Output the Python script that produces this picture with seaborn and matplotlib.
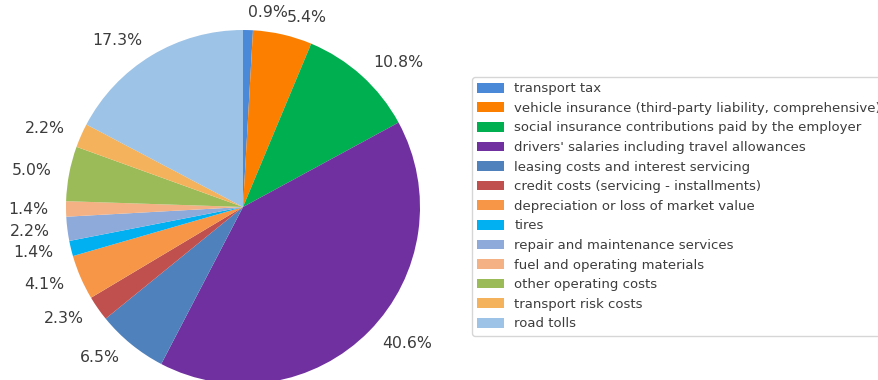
import matplotlib
matplotlib.use("Agg")
import matplotlib.pyplot as plt
import seaborn as sns

sns.set_theme(style="white")
plt.rcParams["font.family"] = ["DejaVu Sans"]

categories = [
    "transport tax",
    "vehicle insurance (third-party liability, comprehensive)",
    "social insurance contributions paid by the employer",
    "drivers' salaries including travel allowances",
    "leasing costs and interest servicing",
    "credit costs (servicing - installments)",
    "depreciation or loss of market value",
    "tires",
    "repair and maintenance services",
    "fuel and operating materials",
    "other operating costs",
    "transport risk costs",
    "road tolls",
]
shares = [0.9, 5.4, 10.8, 40.6, 6.5, 2.3, 4.1, 1.4, 2.2, 1.4, 5.0, 2.2, 17.3]
colors = [
    "#4a88d8", "#fd7f00", "#00b050", "#7030a0", "#4f81bd", "#c0504d",
    "#f79646", "#00b0f0", "#8eaadb", "#f4b183", "#9bbb59", "#f5b25c",
    "#9dc3e6",
]
pct_labels = [f"{v:.1f}%" for v in shares]

fig = plt.figure(figsize=(8.79, 3.80), dpi=100)
ax = fig.add_axes([66 / 879, -4 / 380, 354 / 879, 354 / 380])

wedges, texts = ax.pie(
    shares,
    labels=pct_labels,
    colors=colors,
    startangle=90,
    counterclock=False,
    labeldistance=1.1,
    normalize=True,
    wedgeprops={"linewidth": 0, "edgecolor": "none"},
    textprops={"fontsize": 11.3, "color": "#3c3c3c"},
)
ax.set_xlim(-1, 1)
ax.set_ylim(-1, 1)
ax.set_aspect("equal")
for w in wedges:
    w.set_clip_on(False)

fig.legend(
    wedges,
    categories,
    loc="upper left",
    bbox_to_anchor=(472 / 879, 1 - 77 / 380),
    borderaxespad=0,
    fontsize=9.5,
    frameon=True,
    labelcolor="#3c3c3c",
    labelspacing=0.5,
    handlelength=2.0,
    handleheight=0.75,
)

fig.savefig("out.png", dpi=100)
